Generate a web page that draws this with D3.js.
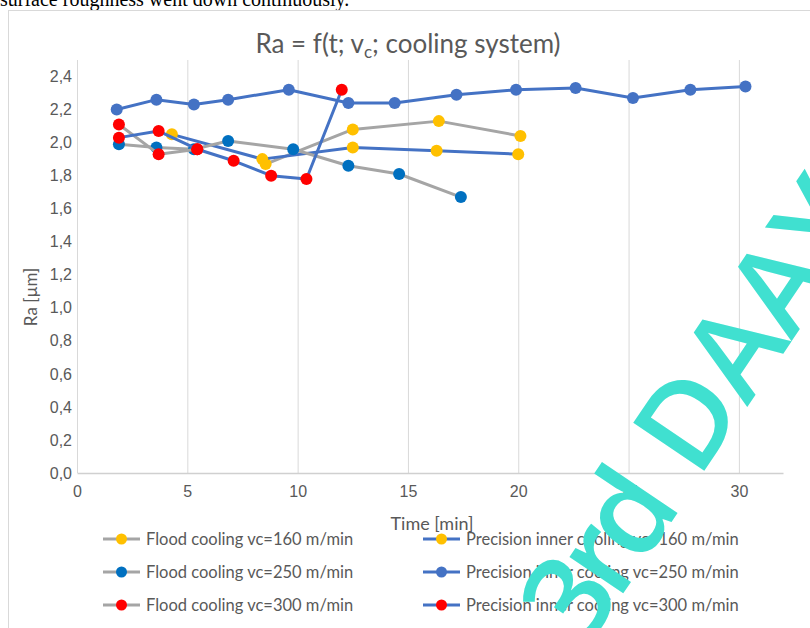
<!DOCTYPE html>
<html>
<head>
<meta charset="utf-8">
<script src="https://cdn.jsdelivr.net/npm/d3@7"></script>
<style>
  body { margin: 0; background: #fff; }
  svg { display: block; font-family: Lato, 'Open Sans', sans-serif; }
</style>
</head>
<body>
<svg width="810" height="628"></svg>
<script>
/*
    Ra = f(t; vc; cooling system) - surface roughness over cutting time
*/

// Series data (time in min, Ra in µm)
let floodTime160 = [8.55, 12.5, 16.4, 20.1];
let floodRa160 = [1.87, 2.08, 2.13, 2.04];

let precTime160 = [4.3, 8.4, 12.5, 16.3, 20.0];
let precRa160 = [2.05, 1.90, 1.97, 1.95, 1.93];

let floodTime250 = [1.9, 3.6, 5.3, 6.85, 9.8, 12.3, 14.6, 17.4];
let floodRa250 = [1.99, 1.97, 1.96, 2.01, 1.96, 1.86, 1.81, 1.67];

let precTime250 = [1.8, 3.6, 5.3, 6.85, 9.6, 12.3, 14.4, 17.2, 19.9, 22.6, 25.2, 27.8, 30.3];
let precRa250 = [2.20, 2.26, 2.23, 2.26, 2.32, 2.24, 2.24, 2.29, 2.32, 2.33, 2.27, 2.32, 2.34];

let floodTime300 = [1.9, 3.7, 5.45];
let floodRa300 = [2.11, 1.93, 1.96];

let precTime300 = [1.9, 3.7, 5.45, 7.1, 8.8, 10.4, 12.0];
let precRa300 = [2.03, 2.07, 1.96, 1.89, 1.80, 1.78, 2.32];

let seriesNames = [
    'Flood cooling vc=160 m/min', 'Precision inner cooling vc=160 m/min',
    'Flood cooling vc=250 m/min', 'Precision inner cooling vc=250 m/min',
    'Flood cooling vc=300 m/min', 'Precision inner cooling vc=300 m/min'
];
let xTicks = [0, 5, 10, 15, 20, 25, 30];
let yTicks = [0, 0.2, 0.4, 0.6, 0.8, 1.0, 1.2, 1.4, 1.6, 1.8, 2.0, 2.2, 2.4];

// Colors
let grayLine = '#a5a5a5';
let blueLine = '#4472c4';
let series = [
    { name: seriesNames[0], t: floodTime160, ra: floodRa160, line: grayLine, dot: '#ffc000' },
    { name: seriesNames[1], t: precTime160, ra: precRa160, line: blueLine, dot: '#ffc000' },
    { name: seriesNames[2], t: floodTime250, ra: floodRa250, line: grayLine, dot: '#0070c0' },
    { name: seriesNames[3], t: precTime250, ra: precRa250, line: blueLine, dot: '#4472c4' },
    { name: seriesNames[4], t: floodTime300, ra: floodRa300, line: grayLine, dot: '#ff0000' },
    { name: seriesNames[5], t: precTime300, ra: precRa300, line: blueLine, dot: '#ff0000' }
];

let svg = d3.select('svg');
let textColor = '#595959';
let plot = {left: 77, right: 783, top: 60, bottom: 473};

// Sentence of the surrounding document, cut by the top edge
svg.append('text')
    .attr('x', 0).attr('y', 6)
    .attr('font-family', "'Liberation Serif', 'Times New Roman', serif")
    .attr('font-size', '20px')
    .attr('fill', '#000')
    .text('surface roughness went down continuously.');

// Chart frame
svg.append('rect')
    .attr('x', 8.5).attr('y', 10.5)
    .attr('width', 900).attr('height', 700)
    .attr('fill', '#fff')
    .attr('stroke', '#d9d9d9');

// Scales
let x = d3.scaleLinear().domain([0, 32]).range([plot.left, plot.right]);
let y = d3.scaleLinear().domain([0, 2.5]).range([plot.bottom, plot.top]);

// Vertical gridlines
svg.append('g')
    .attr('transform', 'translate(0,' + plot.bottom + ')')
    .call(d3.axisBottom(x).tickValues(xTicks).tickSize(-(plot.bottom - plot.top)).tickFormat(''))
    .call(g => g.select('.domain').remove())
    .call(g => g.selectAll('line').attr('stroke', '#d9d9d9'));

// X axis
svg.append('g')
    .attr('transform', 'translate(0,' + plot.bottom + ')')
    .call(d3.axisBottom(x).tickValues(xTicks).tickSize(0).tickPadding(13))
    .call(g => g.select('.domain').attr('stroke', '#d0d0d0').attr('stroke-width', 1.5))
    .call(g => g.selectAll('text').attr('fill', textColor).attr('font-size', '16px').attr('font-family', null));

// Y axis
svg.append('g')
    .attr('transform', 'translate(' + plot.left + ',0)')
    .call(d3.axisLeft(y).tickValues(yTicks).tickSize(0).tickPadding(5)
        .tickFormat(d => d3.format('.1f')(d).replace('.', ',')))
    .call(g => g.select('.domain').remove())
    .call(g => g.selectAll('text').attr('fill', textColor).attr('font-size', '16px').attr('font-family', null));

// Lines and markers
let line = d3.line().x(d => x(d[0])).y(d => y(d[1]));
series.forEach(s => {
    let pts = s.t.map((t, i) => [t, s.ra[i]]);
    let g = svg.append('g');
    g.append('path')
        .attr('d', line(pts))
        .attr('fill', 'none')
        .attr('stroke', s.line)
        .attr('stroke-width', 3)
        .attr('stroke-linejoin', 'round');
    g.selectAll('circle')
        .data(pts)
        .enter().append('circle')
        .attr('cx', d => x(d[0]))
        .attr('cy', d => y(d[1]))
        .attr('r', 6)
        .attr('fill', s.dot);
});

// Title
let title = svg.append('text')
    .attr('x', 408).attr('y', 53)
    .attr('text-anchor', 'middle')
    .attr('font-size', '26px')
    .attr('fill', textColor);
title.append('tspan').text('Ra = f(t; v');
title.append('tspan').attr('font-size', '17px').attr('dy', 5).text('c');
title.append('tspan').attr('dy', -5).text('; cooling system)');

// Axis titles
svg.append('text')
    .attr('text-anchor', 'middle')
    .attr('transform', 'translate(37,297) rotate(-90)')
    .attr('font-size', '17px')
    .attr('fill', textColor)
    .text('Ra [µm]');

svg.append('text')
    .attr('text-anchor', 'middle')
    .attr('x', 432).attr('y', 530)
    .attr('font-size', '18px')
    .attr('fill', textColor)
    .text('Time [min]');

// Legend
let legendX = [103, 423];
let legendY = [539, 572, 605];
series.forEach((s, i) => {
    let lx = legendX[i % 2];
    let ly = legendY[Math.floor(i / 2)];
    let g = svg.append('g').attr('transform', 'translate(' + lx + ',' + ly + ')');
    g.append('line')
        .attr('x1', 0).attr('x2', 37)
        .attr('stroke', s.line).attr('stroke-width', 3);
    g.append('circle').attr('cx', 18.5).attr('r', 5.5).attr('fill', s.dot);
    g.append('text')
        .attr('x', 43).attr('dy', '0.35em')
        .attr('font-size', '16.5px')
        .attr('fill', textColor)
        .text(s.name);
});

// Watermark across the picture
let mark = svg.append('g')
    .attr('font-family', "'Open Sans', sans-serif")
    .attr('font-weight', 600)
    .attr('font-size', '120px')
    .attr('fill', '#40e0d0');
mark.append('text')
    .attr('transform', 'translate(585,650) rotate(-56)')
    .attr('letter-spacing', '-10px')
    .text('3rd');
mark.append('text')
    .attr('transform', 'translate(698,480) rotate(-56)')
    .text('DAAY');
</script>
</body>
</html>
